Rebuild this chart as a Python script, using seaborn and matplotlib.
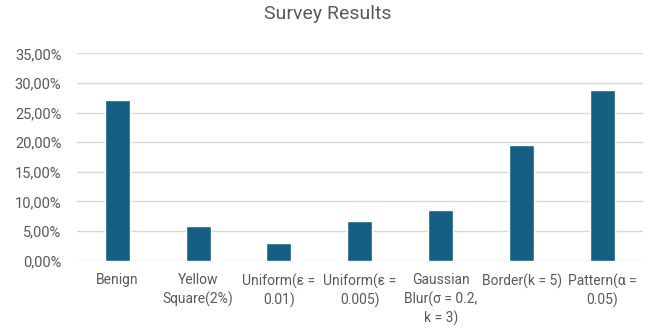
import matplotlib
matplotlib.use("Agg")
import matplotlib.pyplot as plt
import matplotlib.ticker as mticker
import seaborn as sns
import pandas as pd

categories = [
    "Benign",
    "Yellow\nSquare(2%)",
    "Uniform(ε =\n0.01)",
    "Uniform(ε =\n0.005)",
    "Gaussian\nBlur(σ = 0.2,\nk = 3)",
    "Border(k = 5)",
    "Pattern(α =\n0.05)",
]
shares = [0.271, 0.058, 0.030, 0.0675, 0.0855, 0.195, 0.288]
y_ticks = [0.0, 0.05, 0.10, 0.15, 0.20, 0.25, 0.30, 0.35]

sns.set_theme(style="white")
plt.rcParams["font.family"] = ["Roboto", "DejaVu Sans"]

df = pd.DataFrame({"category": categories, "share": shares})

fig = plt.figure(figsize=(6.56, 3.30), dpi=100)
ax = fig.add_axes([0.117, 0.21, 0.863, 0.628])

sns.barplot(data=df, x="category", y="share", color="#156082",
            width=0.31, saturation=1, ax=ax, zorder=3)

ax.set_ylim(0, 0.35)
ax.set_yticks(y_ticks)
ax.yaxis.set_major_formatter(
    mticker.FuncFormatter(lambda v, _: f"{v * 100:.2f}%".replace(".", ","))
)
ax.grid(axis="y", color="#d9d9d9", linewidth=1, zorder=0)
ax.grid(axis="x", visible=False)
for side in ["top", "right", "left", "bottom"]:
    ax.spines[side].set_visible(False)

ax.tick_params(axis="y", length=0, pad=11, labelsize=10.5, labelcolor="#595959")
ax.tick_params(axis="x", length=0, pad=9, labelsize=10, labelcolor="#595959")
for lbl in ax.get_xticklabels():
    lbl.set_linespacing(1.35)
    lbl.set_horizontalalignment("center")
ax.set_xlabel("")
ax.set_ylabel("")

fig.suptitle("Survey Results", y=0.985, fontsize=14, color="#595959")

fig.savefig("out.png", dpi=100)
